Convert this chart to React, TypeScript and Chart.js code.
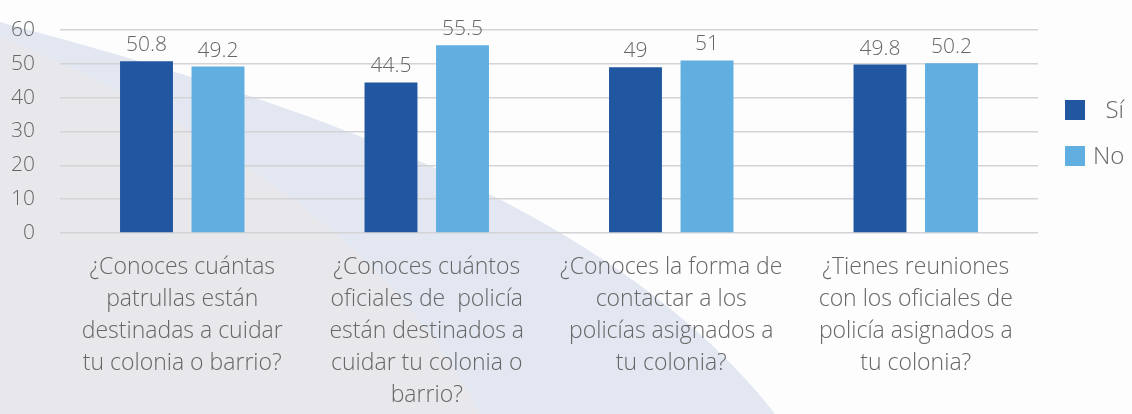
import React, { useEffect, useRef } from "react";
import { Chart, registerables } from "chart.js";

Chart.register(...registerables);

// ---- data ----
const categories: string[][] = [
  ["¿Conoces cuántas", "patrullas están", "destinadas a cuidar", "tu colonia o barrio?"],
  ["¿Conoces cuántos", "oficiales de  policía", "están destinados a", "cuidar tu colonia o", "barrio?"],
  ["¿Conoces la forma de", "contactar a los", "policías asignados a", "tu colonia?"],
  ["¿Tienes reuniones", "con los oficiales de", "policía asignados a", "tu colonia?"],
];
const siValues: number[] = [50.8, 44.5, 49, 49.8];
const noValues: number[] = [49.2, 55.5, 51, 50.2];
const seriesNames: string[] = ["  Sí", "No"];
const seriesColors: string[] = ["#2156a0", "#61aee0"];
const yMin = 0;
const yMax = 60;
const yStep = 10;

const FONT = "'Open Sans', sans-serif";
const TEXT = "#666666";

const backgroundPlugin = {
  id: "bgDecor",
  beforeDraw(chart: any) {
    const { ctx, width, height } = chart;
    ctx.save();
    ctx.fillStyle = "#fdfdfe";
    ctx.fillRect(0, 0, width, height);
    // light blue swoosh band
    ctx.fillStyle = "#e2e7f2";
    ctx.beginPath();
    ctx.moveTo(0, 22);
    ctx.bezierCurveTo(250, 90, 600, 190, 775, height);
    ctx.lineTo(0, height);
    ctx.closePath();
    ctx.fill();
    // gray area
    ctx.fillStyle = "#e8e8ec";
    ctx.beginPath();
    ctx.moveTo(0, 36);
    ctx.bezierCurveTo(150, 100, 380, 215, 480, height);
    ctx.lineTo(0, height);
    ctx.closePath();
    ctx.fill();
    ctx.restore();
  },
};

const valueLabelPlugin = {
  id: "valueLabels",
  afterDatasetsDraw(chart: any) {
    const ctx = chart.ctx;
    ctx.save();
    ctx.font = `300 21px ${FONT}`;
    ctx.fillStyle = TEXT;
    ctx.textAlign = "center";
    ctx.textBaseline = "alphabetic";
    chart.data.datasets.forEach((ds: any, i: number) => {
      const meta = chart.getDatasetMeta(i);
      meta.data.forEach((bar: any, j: number) => {
        ctx.fillText(String(ds.data[j]), bar.x, bar.y - 10);
      });
    });
    ctx.restore();
  },
};

const legendPlugin = {
  id: "sideLegend",
  afterDraw(chart: any) {
    const ctx = chart.ctx;
    const area = chart.chartArea;
    const x0 = area.right + 27;
    ctx.save();
    ctx.font = `300 24px ${FONT}`;
    ctx.textAlign = "left";
    ctx.textBaseline = "middle";
    chart.data.datasets.forEach((ds: any, i: number) => {
      const yTop = 100 + i * 46;
      ctx.fillStyle = ds.backgroundColor;
      ctx.fillRect(x0, yTop, 20, 20);
      ctx.fillStyle = TEXT;
      ctx.fillText(ds.label, x0 + 28, yTop + 11);
    });
    ctx.restore();
  },
};

export default function App() {
  const canvasRef = useRef<HTMLCanvasElement | null>(null);

  useEffect(() => {
    if (!canvasRef.current) return;
    const chart = new Chart(canvasRef.current, {
      type: "bar",
      data: {
        labels: categories,
        datasets: [
          {
            label: seriesNames[0],
            data: siValues,
            backgroundColor: seriesColors[0],
            categoryPercentage: 0.585,
            barPercentage: 0.74,
          },
          {
            label: seriesNames[1],
            data: noValues,
            backgroundColor: seriesColors[1],
            categoryPercentage: 0.585,
            barPercentage: 0.74,
          },
        ],
      },
      options: {
        animation: false,
        responsive: true,
        maintainAspectRatio: false,
        layout: { padding: { left: 0, right: 94, top: 30, bottom: 0 } },
        plugins: {
          legend: { display: false },
          tooltip: { enabled: false },
        },
        scales: {
          x: {
            grid: { display: false, drawTicks: false },
            border: { display: false },
            ticks: {
              padding: 18,
              color: TEXT,
              font: { family: FONT, size: 23, weight: 300, lineHeight: 32 / 23 },
              maxRotation: 0,
              autoSkip: false,
            },
            afterFit(scale: any) {
              scale.height = 181;
              scale.paddingLeft = 0;
              scale.paddingRight = 0;
            },
          },
          y: {
            min: yMin,
            max: yMax,
            grid: { color: "#d4d4d6", lineWidth: 1.5, drawTicks: false },
            border: { display: false },
            ticks: {
              stepSize: yStep,
              padding: 25,
              color: TEXT,
              font: { family: FONT, size: 21, weight: 300 },
            },
            afterFit(scale: any) {
              scale.width = 60;
              scale.paddingTop = 0;
              scale.paddingBottom = 0;
            },
          },
        },
      },
      plugins: [backgroundPlugin, valueLabelPlugin, legendPlugin],
    });
    return () => chart.destroy();
  }, []);

  return (
    <div style={{ position: "absolute", left: 0, top: 0, width: 1132, height: 414 }}>
      <canvas ref={canvasRef} />
    </div>
  );
}
